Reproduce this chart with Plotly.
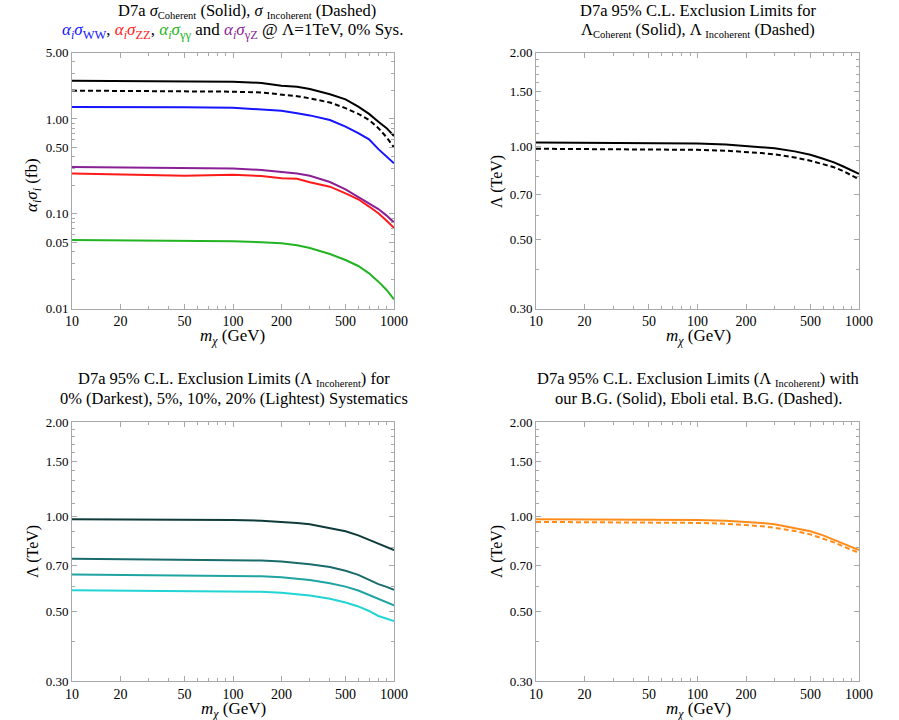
import plotly.graph_objects as go

# dark matter mass grid (GeV)
m_chi = [10, 20, 50, 100, 150, 200, 250, 300, 400, 500, 600, 700, 800, 900, 1000]

# top-left: cross sections (fb)
sig_coh = [2.53, 2.51, 2.47, 2.47, 2.40, 2.24, 2.19, 2.07, 1.82, 1.61, 1.35, 1.13, 0.935, 0.80, 0.66]
sig_incoh = [1.99, 1.98, 1.96, 1.94, 1.90, 1.82, 1.74, 1.65, 1.49, 1.30, 1.13, 0.975, 0.80, 0.64, 0.50]
sig_ww = [1.34, 1.34, 1.33, 1.31, 1.27, 1.22, 1.15, 1.09, 0.975, 0.83, 0.71, 0.61, 0.48, 0.40, 0.34]
sig_gz = [0.311, 0.308, 0.304, 0.30, 0.29, 0.278, 0.265, 0.252, 0.216, 0.181, 0.151, 0.127, 0.112, 0.0955, 0.081]
sig_zz = [0.265, 0.26, 0.252, 0.257, 0.25, 0.237, 0.234, 0.215, 0.193, 0.164, 0.142, 0.119, 0.101, 0.0845, 0.071]
sig_gg = [0.0528, 0.0525, 0.052, 0.0513, 0.050, 0.0488, 0.0465, 0.0435, 0.0376, 0.0325, 0.0281, 0.0235, 0.0192, 0.0157, 0.0125]

# top-right: limits (TeV)
lam_coh = [1.027, 1.025, 1.022, 1.02, 1.012, 1.002, 0.993, 0.985, 0.962, 0.938, 0.911, 0.887, 0.86, 0.835, 0.815]
lam_incoh = [0.981, 0.979, 0.976, 0.973, 0.967, 0.959, 0.95, 0.941, 0.920, 0.898, 0.877, 0.855, 0.831, 0.805, 0.782]

# bottom-left: incoherent limits vs systematics
lam_sys0 = [0.981, 0.980, 0.978, 0.976, 0.971, 0.964, 0.955, 0.945, 0.920, 0.898, 0.872, 0.845, 0.820, 0.804, 0.783]
lam_sys5 = [0.735, 0.733, 0.731, 0.729, 0.725, 0.720, 0.713, 0.706, 0.691, 0.673, 0.653, 0.629, 0.610, 0.598, 0.585]
lam_sys10 = [0.655, 0.653, 0.651, 0.650, 0.646, 0.642, 0.636, 0.629, 0.614, 0.599, 0.582, 0.564, 0.546, 0.534, 0.522]
lam_sys20 = [0.583, 0.582, 0.581, 0.580, 0.577, 0.573, 0.567, 0.561, 0.548, 0.533, 0.518, 0.501, 0.483, 0.474, 0.465]

# bottom-right: our B.G. vs Eboli et al. B.G.
lam_ours = lam_sys0
lam_eboli = [0.962, 0.961, 0.958, 0.955, 0.949, 0.941, 0.932, 0.922, 0.900, 0.878, 0.853, 0.828, 0.804, 0.785, 0.767]

x_major = [10, 20, 50, 100, 200, 500, 1000]
x_minor = [30, 40, 60, 70, 80, 90, 300, 400, 600, 700, 800, 900]
y1_major = [0.01, 0.05, 0.1, 0.5, 1, 5]
y1_labels = ["0.01", "0.05", "0.10", "0.50", "1.00", "5.00"]
y1_minor = [0.02, 0.03, 0.04, 0.06, 0.07, 0.08, 0.09, 0.2, 0.3, 0.4, 0.6, 0.7, 0.8, 0.9, 2, 3, 4]
y2_major = [0.3, 0.5, 0.7, 1.0, 1.5, 2.0]
y2_labels = ["0.30", "0.50", "0.70", "1.00", "1.50", "2.00"]
y2_minor = [0.4, 0.6, 0.8, 0.9, 1.1, 1.2, 1.3, 1.4, 1.6, 1.7, 1.8, 1.9]

FONT = "Liberation Serif"
FRAME = "#a8a8a8"
W, H = 899, 720
DASH = "5px,3px"

fig = go.Figure()

def add_line(ax, y, color, dash="solid"):
    fig.add_trace(go.Scatter(
        x=m_chi, y=y, mode="lines", xaxis="x" + ax, yaxis="y" + ax,
        line=dict(color=color, width=2, dash=dash), showlegend=False,
    ))

add_line("", sig_coh, "black")
add_line("", sig_incoh, "black", DASH)
add_line("", sig_ww, "#1515ff")
add_line("", sig_gz, "#8a1f96")
add_line("", sig_zz, "#ff1a1a")
add_line("", sig_gg, "#22b422")

add_line("2", lam_coh, "black")
add_line("2", lam_incoh, "black", DASH)

add_line("3", lam_sys0, "#0f3b3b")
add_line("3", lam_sys5, "#1a6b6b")
add_line("3", lam_sys10, "#1fa3a3")
add_line("3", lam_sys20, "#22d4d4")

add_line("4", lam_ours, "#ff8c1a")
add_line("4", lam_eboli, "#ff8c1a", DASH)

def xaxis(dom, anchor):
    return dict(
        type="log", range=[1, 3], domain=dom, anchor=anchor, automargin=False,
        tickvals=x_major, ticktext=[str(v) for v in x_major],
        ticks="inside", ticklen=5, tickcolor=FRAME,
        minor=dict(tickvals=x_minor, ticks="inside", ticklen=3, tickcolor=FRAME),
        showline=True, linecolor=FRAME, linewidth=1, mirror="allticks",
        showgrid=False, zeroline=False,
        tickfont=dict(family=FONT, size=14, color="black"),
    )

def yaxis(dom, anchor, rng, vals, labels, minor):
    return dict(
        type="log", range=rng, domain=dom, anchor=anchor, automargin=False,
        tickvals=vals, ticktext=labels,
        ticks="inside", ticklen=5, tickcolor=FRAME,
        minor=dict(tickvals=minor, ticks="inside", ticklen=3, tickcolor=FRAME),
        showline=True, linecolor=FRAME, linewidth=1, mirror="allticks",
        showgrid=False, zeroline=False,
        tickfont=dict(family=FONT, size=13, color="black"),
    )

L = [72 / W, 394 / W]
R = [536 / W, 859 / W]
T = [1 - 308.5 / H, 1 - 52.7 / H]
B = [1 - 681 / H, 1 - 422 / H]
rng_a = [-2, 0.69897]
rng_b = [-0.522879, 0.30103]

fig.update_layout(
    width=W, height=H,
    margin=dict(l=0, r=0, t=0, b=0, pad=0, autoexpand=False),
    paper_bgcolor="white", plot_bgcolor="white",
    font=dict(family=FONT, size=16, color="black"),
    xaxis=xaxis(L, "y"), yaxis=yaxis(T, "x", rng_a, y1_major, y1_labels, y1_minor),
    xaxis2=xaxis(R, "y2"), yaxis2=yaxis(T, "x2", rng_b, y2_major, y2_labels, y2_minor),
    xaxis3=xaxis(L, "y3"), yaxis3=yaxis(B, "x3", rng_b, y2_major, y2_labels, y2_minor),
    xaxis4=xaxis(R, "y4"), yaxis4=yaxis(B, "x4", rng_b, y2_major, y2_labels, y2_minor),
)

def text(x, y, s, angle=0, size=16.5):
    fig.add_annotation(x=x / W, y=1 - y / H, xref="paper", yref="paper", text=s,
                       showarrow=False, textangle=angle, font=dict(family=FONT, size=size),
                       xanchor="center", yanchor="middle")

def sub(s, size=10.5):
    return f"<sub><span style='font-size:{size}px'>{s}</span></sub>"

ai = "<i>α</i>" + sub("<i>i</i>", 12) + "<i>σ</i>"
text(247, 11, f"D7a <i>σ</i>{sub('Coherent')} (Solid), <i>σ</i> {sub('Incoherent')} (Dashed)")
text(233, 31,
     f"<span style='color:#1515ff'>{ai}{sub('WW', 12.5)}</span>, "
     f"<span style='color:#ff1a1a'>{ai}{sub('ZZ', 12.5)}</span>, "
     f"<span style='color:#22b422'>{ai}{sub('γγ', 12.5)}</span> and "
     f"<span style='color:#8a1f96'>{ai}{sub('γZ', 12.5)}</span> @ Λ=1TeV, 0% Sys.", size=17)
text(698, 11, "D7a 95% C.L. Exclusion Limits for")
text(698, 30, f"Λ{sub('Coherent')} (Solid), Λ {sub('Incoherent')} (Dashed)")
text(234, 379, f"D7a 95% C.L. Exclusion Limits (Λ {sub('Incoherent')}) for")
text(234, 398, "0% (Darkest), 5%, 10%, 20% (Lightest) Systematics")
text(698, 379, f"D7a 95% C.L. Exclusion Limits (Λ {sub('Incoherent')}) with")
text(698, 398, "our B.G. (Solid), Eboli etal. B.G. (Dashed).")

mx = "<i>m<sub>χ</sub></i> (GeV)"
text(232, 337, mx, size=17)
text(698, 337, mx, size=17)
text(234, 710, mx, size=17)
text(698, 710, mx, size=17)

text(33, 185, "<i>α<sub>i</sub>σ<sub>i</sub></i> (fb)", angle=-90, size=17)
text(497, 182, "Λ (TeV)", angle=-90, size=16)
text(33, 552, "Λ (TeV)", angle=-90, size=16)
text(497, 552, "Λ (TeV)", angle=-90, size=16)

# drop the browser's default 8px body margin so the figure sits at the page origin
fig.write_html("out.html", config={"displayModeBar": False},
               post_script="document.body.style.margin='0';")
